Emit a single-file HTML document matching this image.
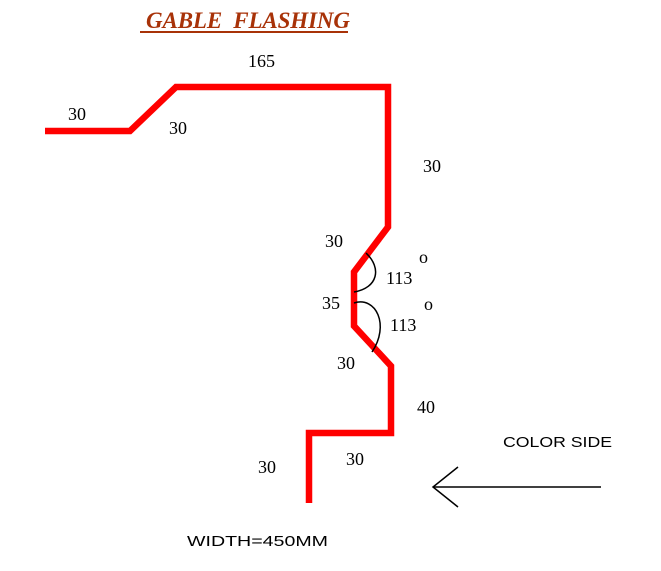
<!DOCTYPE html>
<html><head><style>
html,body{margin:0;padding:0;background:#fff;}
svg{display:block;}
.t{font-family:"Liberation Serif",serif;font-size:18px;fill:#000;}
.s{font-family:"Liberation Sans",sans-serif;font-size:15px;fill:#000;}
</style></head><body>
<svg width="661" height="571" viewBox="0 0 661 571">
<rect width="661" height="571" fill="#fff"/>
<text x="146" y="28" font-family="Liberation Serif,serif" font-size="23" font-weight="bold" font-style="italic" fill="#a83208" textLength="204">GABLE&#160;&#160;FLASHING</text>
<line x1="140" y1="32" x2="348" y2="32" stroke="#a83208" stroke-width="2"/>
<polyline points="45,131 130,131 176,87 388,87 388,227 354,272 354,326 391,366 391,433 309,433 309,503" fill="none" stroke="#ff0000" stroke-width="6.5" stroke-linejoin="miter"/>
<path d="M366,253 C382,268 378,288 354,292" fill="none" stroke="#000" stroke-width="1.5"/>
<path d="M354,303 C376,296 390,325 372,352" fill="none" stroke="#000" stroke-width="1.5"/>
<text class="t" x="68" y="120">30</text>
<text class="t" x="169" y="134">30</text>
<text class="t" x="248" y="67">165</text>
<text class="t" x="423" y="172">30</text>
<text class="t" x="325" y="247">30</text>
<text class="t" x="386" y="284">113</text>
<text class="t" x="419" y="263">o</text>
<text class="t" x="322" y="309">35</text>
<text class="t" x="390" y="331">113</text>
<text class="t" x="424" y="310">o</text>
<text class="t" x="337" y="369">30</text>
<text class="t" x="417" y="413">40</text>
<text class="t" x="346" y="465">30</text>
<text class="t" x="258" y="473">30</text>
<text class="s" x="503" y="447" textLength="109" lengthAdjust="spacingAndGlyphs">COLOR SIDE</text>
<g stroke="#000" stroke-width="1.5" fill="none">
<line x1="433" y1="487" x2="601" y2="487"/>
<polyline points="458,467 433,487 458,507"/>
</g>
<text class="s" x="187" y="546" textLength="141" lengthAdjust="spacingAndGlyphs">WIDTH=450MM</text>
</svg>
</body></html>
